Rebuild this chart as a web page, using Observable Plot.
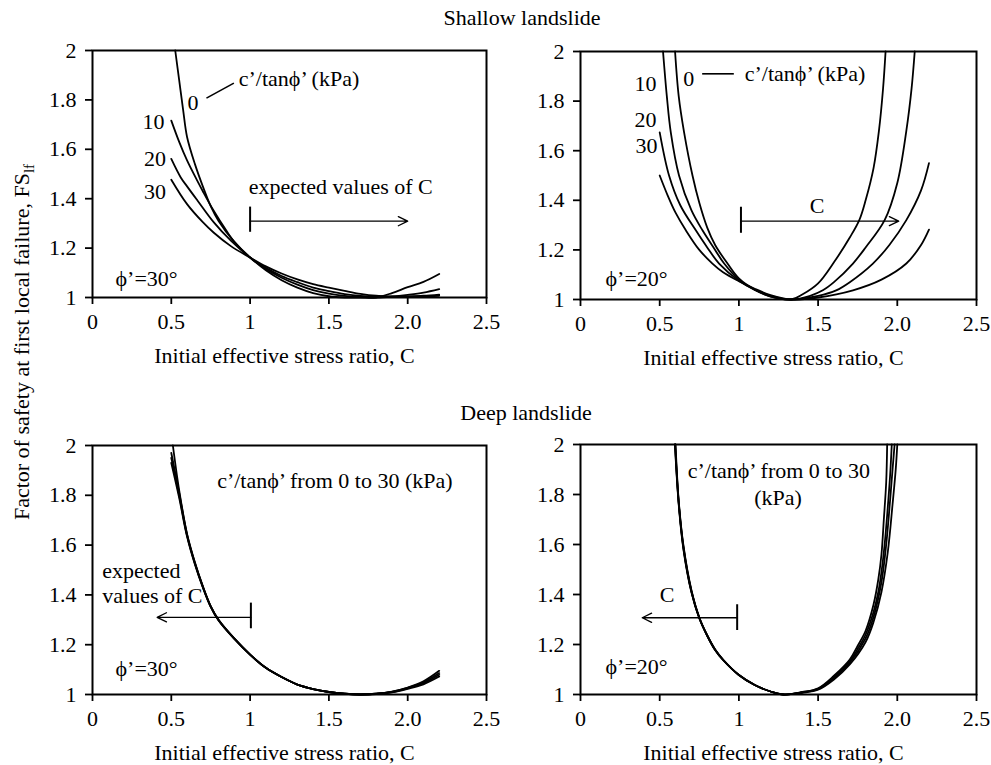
<!DOCTYPE html>
<html><head><meta charset="utf-8">
<script src="https://cdn.jsdelivr.net/npm/d3@7"></script>
<script src="https://cdn.jsdelivr.net/npm/@observablehq/plot@0.6"></script>
<style>
html,body{margin:0;padding:0;background:#fff;overflow:hidden;}
#fig{position:relative;width:991px;height:765px;overflow:hidden;background:#fff;}
#fig > svg{position:absolute;}
</style></head><body><div id="fig"></div>
<script>
// ---- tick values & labels
const xTickValues = [0, 0.5, 1, 1.5, 2, 2.5];
const xTickLabels = ["0", "0.5", "1", "1.5", "2.0", "2.5"];
const yTickValues = [1, 1.2, 1.4, 1.6, 1.8, 2];
const yTickLabels = ["1", "1.2", "1.4", "1.6", "1.8", "2"];
const seriesNames = ["0", "10", "20", "30"]; // c'/tanphi' (kPa)
const xTitle = "Initial effective stress ratio, C";
const yTitle = "Factor of safety at first local failure, FS";
const yTitleSub = "lf";
const panelTitles = ["Shallow landslide", "Deep landslide"];

// ---- Shallow landslide, phi' = 30
const shallow30_c0 = [[0.525,2.0],[0.55,1.88],[0.575,1.76],[0.6,1.65],[0.65,1.54],[0.7,1.45],[0.75,1.37],[0.8,1.31],[0.9,1.225],[1.0,1.162],[1.1,1.11],[1.2,1.07],[1.3,1.04],[1.4,1.018],[1.5,1.005],[1.6,1.0],[1.7,1.0],[1.8,1.0],[1.9,1.018],[2.0,1.042],[2.1,1.063],[2.2,1.095]];
const shallow30_c10 = [[0.5,1.716],[0.55,1.63],[0.6,1.555],[0.667,1.47],[0.7,1.43],[0.77,1.35],[0.85,1.27],[0.9,1.225],[1.0,1.162],[1.1,1.115],[1.2,1.08],[1.3,1.052],[1.4,1.03],[1.5,1.016],[1.6,1.007],[1.7,1.002],[1.8,1.0],[1.9,1.004],[2.0,1.011],[2.1,1.02],[2.2,1.034]];
const shallow30_c20 = [[0.5,1.561],[0.56,1.486],[0.6,1.45],[0.667,1.392],[0.77,1.304],[0.878,1.23],[1.0,1.162],[1.1,1.12],[1.2,1.087],[1.3,1.062],[1.4,1.04],[1.5,1.026],[1.6,1.014],[1.7,1.006],[1.8,1.002],[1.9,1.002],[2.0,1.004],[2.1,1.007],[2.2,1.012]];
const shallow30_c30 = [[0.5,1.477],[0.6,1.378],[0.7,1.305],[0.77,1.262],[0.878,1.208],[1.0,1.162],[1.1,1.126],[1.2,1.097],[1.3,1.073],[1.4,1.054],[1.5,1.04],[1.6,1.027],[1.7,1.015],[1.8,1.007],[1.9,1.004],[2.0,1.003],[2.1,1.004],[2.2,1.007]];

// ---- Shallow landslide, phi' = 20
const shallow20_c0 = [[0.597,2.0],[0.62,1.82],[0.654,1.674],[0.707,1.5],[0.75,1.39],[0.8,1.29],[0.85,1.22],[0.928,1.145],[1.0,1.085],[1.1,1.04],[1.2,1.013],[1.33,1.0],[1.4,1.02],[1.5,1.065],[1.6,1.15],[1.7,1.25],[1.76,1.32],[1.8,1.4],[1.85,1.53],[1.884,1.68],[1.91,1.85],[1.926,2.0]];
const shallow20_c10 = [[0.521,2.0],[0.545,1.82],[0.57,1.674],[0.622,1.5],[0.7,1.36],[0.77,1.279],[0.85,1.2],[0.907,1.145],[1.0,1.08],[1.1,1.038],[1.2,1.012],[1.33,1.0],[1.45,1.015],[1.53,1.037],[1.6,1.07],[1.72,1.145],[1.8,1.21],[1.92,1.32],[2.0,1.47],[2.057,1.68],[2.09,1.85],[2.11,2.0]];
const shallow20_c20 = [[0.5,1.674],[0.559,1.5],[0.63,1.38],[0.728,1.279],[0.8,1.21],[0.875,1.145],[1.0,1.076],[1.1,1.04],[1.2,1.015],[1.33,1.0],[1.5,1.015],[1.614,1.037],[1.7,1.07],[1.846,1.145],[1.95,1.22],[2.057,1.32],[2.15,1.44],[2.2,1.55]];
const shallow20_c30 = [[0.5,1.5],[0.55,1.42],[0.6,1.35],[0.665,1.279],[0.75,1.2],[0.833,1.145],[0.9,1.11],[1.0,1.074],[1.1,1.043],[1.2,1.018],[1.33,1.0],[1.5,1.008],[1.72,1.037],[1.9,1.08],[2.057,1.145],[2.15,1.22],[2.2,1.282]];

// ---- Deep landslide, phi' = 30
const deep30_c0 = [[0.51,2.0],[0.55,1.82],[0.6,1.645],[0.65,1.53],[0.7,1.435],[0.75,1.355],[0.8,1.3],[0.9,1.225],[1.0,1.16],[1.1,1.107],[1.2,1.07],[1.3,1.04],[1.4,1.022],[1.5,1.01],[1.6,1.003],[1.7,1.0],[1.8,1.003],[1.9,1.012],[2.0,1.028],[2.1,1.053],[2.2,1.095]];
const deep30_c10 = [[0.5,1.97],[0.55,1.81],[0.6,1.642],[0.65,1.528],[0.7,1.434],[0.75,1.354],[0.8,1.299],[0.9,1.224],[1.0,1.16],[1.1,1.107],[1.2,1.07],[1.3,1.04],[1.4,1.022],[1.5,1.01],[1.6,1.003],[1.7,1.0],[1.8,1.003],[1.9,1.011],[2.0,1.027],[2.1,1.049],[2.2,1.086]];
const deep30_c20 = [[0.5,1.95],[0.55,1.8],[0.6,1.638],[0.65,1.525],[0.7,1.432],[0.75,1.353],[0.8,1.298],[0.9,1.224],[1.0,1.16],[1.1,1.107],[1.2,1.07],[1.3,1.04],[1.4,1.022],[1.5,1.01],[1.6,1.003],[1.7,1.0],[1.8,1.003],[1.9,1.01],[2.0,1.025],[2.1,1.045],[2.2,1.079]];
const deep30_c30 = [[0.5,1.93],[0.55,1.79],[0.6,1.634],[0.65,1.522],[0.7,1.43],[0.75,1.352],[0.8,1.297],[0.9,1.223],[1.0,1.16],[1.1,1.107],[1.2,1.07],[1.3,1.04],[1.4,1.022],[1.5,1.01],[1.6,1.003],[1.7,1.0],[1.8,1.002],[1.9,1.009],[2.0,1.023],[2.1,1.041],[2.2,1.072]];

// ---- Deep landslide, phi' = 20
const deep20_c0 = [[0.596,2.0],[0.62,1.76],[0.65,1.58],[0.7,1.41],[0.75,1.305],[0.8,1.235],[0.85,1.178],[0.9,1.138],[1.0,1.078],[1.1,1.038],[1.2,1.012],[1.28,1.0],[1.4,1.01],[1.5,1.025],[1.6,1.075],[1.7,1.14],[1.75,1.195],[1.8,1.255],[1.85,1.36],[1.88,1.46],[1.9,1.56],[1.915,1.7],[1.93,1.85],[1.936,2.0]];
const deep20_c10 = [[0.597,2.0],[0.62,1.765],[0.65,1.585],[0.7,1.412],[0.75,1.306],[0.8,1.235],[0.85,1.178],[0.9,1.138],[1.0,1.078],[1.1,1.038],[1.2,1.012],[1.28,1.0],[1.4,1.009],[1.5,1.023],[1.6,1.07],[1.7,1.133],[1.75,1.182],[1.8,1.24],[1.85,1.33],[1.88,1.41],[1.9,1.49],[1.92,1.6],[1.94,1.75],[1.955,1.88],[1.965,2.0]];
const deep20_c20 = [[0.598,2.0],[0.62,1.77],[0.65,1.59],[0.7,1.415],[0.75,1.307],[0.8,1.236],[0.85,1.179],[0.9,1.139],[1.0,1.078],[1.1,1.038],[1.2,1.012],[1.28,1.0],[1.4,1.008],[1.5,1.021],[1.6,1.065],[1.7,1.127],[1.8,1.225],[1.85,1.31],[1.9,1.45],[1.93,1.6],[1.955,1.78],[1.97,1.9],[1.983,2.0]];
const deep20_c30 = [[0.6,2.0],[0.62,1.775],[0.65,1.595],[0.7,1.418],[0.75,1.308],[0.8,1.237],[0.85,1.18],[0.9,1.14],[1.0,1.078],[1.1,1.038],[1.2,1.012],[1.28,1.0],[1.4,1.007],[1.5,1.019],[1.6,1.06],[1.7,1.12],[1.8,1.21],[1.85,1.29],[1.9,1.41],[1.94,1.57],[1.97,1.76],[1.99,1.9],[2.0,2.0]];

// ---- annotations (data coordinates); a = text anchor
const ann_s30_text = [
  {x:0.928, y:1.885, t:"c’/tanϕ’ (kPa)", a:"start"},
  {x:0.638, y:1.789, t:"0", a:"middle"},
  {x:0.387, y:1.71, t:"10", a:"middle"},
  {x:0.397, y:1.562, t:"20", a:"middle"},
  {x:0.397, y:1.426, t:"30", a:"middle"},
  {x:0.992, y:1.447, t:"expected values of C", a:"start"},
  {x:0.146, y:1.076, t:"ϕ’=30°", a:"start"}
];
const ann_s30_leader = [{x1:0.723, y1:1.807, x2:0.897, y2:1.868}];
const ann_s30_arrow = [{x1:1.0, x2:2.0, y:1.309, yb1:1.366, yb2:1.264}];

const ann_s20_text = [
  {x:1.037, y:1.91, t:"c’/tanϕ’ (kPa)", a:"start"},
  {x:0.684, y:1.89, t:"0", a:"middle"},
  {x:0.41, y:1.87, t:"10", a:"middle"},
  {x:0.41, y:1.722, t:"20", a:"middle"},
  {x:0.417, y:1.621, t:"30", a:"middle"},
  {x:1.494, y:1.376, t:"C", a:"middle"},
  {x:0.158, y:1.083, t:"ϕ’=20°", a:"start"}
];
const ann_s20_leader = [{x1:0.768, y1:1.91, x2:0.968, y2:1.91}];
const ann_s20_arrow = [{x1:1.013, x2:2.009, y:1.316, yb1:1.372, yb2:1.267}];

const ann_d30_text = [
  {x:0.791, y:1.859, t:"c’/tanϕ’ from 0 to 30 (kPa)", a:"start"},
  {x:0.062, y:1.498, t:"expected", a:"start"},
  {x:0.062, y:1.395, t:"values of C", a:"start"},
  {x:0.146, y:1.103, t:"ϕ’=30°", a:"start"}
];
const ann_d30_arrow = [{x1:1.005, x2:0.41, y:1.31, yb1:1.367, yb2:1.264}];

const ann_d20_text = [
  {x:1.252, y:1.896, t:"c’/tanϕ’ from 0 to 30", a:"middle"},
  {x:1.247, y:1.787, t:"(kPa)", a:"middle"},
  {x:0.547, y:1.4, t:"C", a:"middle"},
  {x:0.158, y:1.109, t:"ϕ’=20°", a:"start"}
];
const ann_d20_arrow = [{x1:0.989, x2:0.39, y:1.307, yb1:1.359, yb2:1.256}];

// ---- build
const FONT = "'Liberation Serif', 'Times New Roman', serif";
const fig = document.getElementById("fig");

// overlay for titles
const overlay = d3.create("svg").attr("width", 991).attr("height", 765)
  .style("left", "0px").style("top", "0px")
  .attr("font-family", FONT).attr("font-size", 22).attr("fill", "black");
overlay.append("text").attr("x", 522).attr("y", 25).attr("text-anchor", "middle").text(panelTitles[0]);
overlay.append("text").attr("x", 526).attr("y", 420).attr("text-anchor", "middle").text(panelTitles[1]);
const yl = overlay.append("text").attr("transform", "translate(29,342) rotate(-90)").attr("text-anchor", "middle");
yl.append("tspan").text(yTitle);
yl.append("tspan").attr("font-size", 15).attr("dy", 5).text(yTitleSub);
fig.appendChild(overlay.node());

function fmtX(d) { return xTickLabels[xTickValues.indexOf(d)]; }
function fmtY(d) { const i = yTickValues.findIndex(v => Math.abs(v - d) < 1e-9); return yTickLabels[i]; }

function panel(frame, curves, texts, leaders, arrows) {
  const [fx0, fy0, fx1, fy1] = frame;
  const mL = 70, mR = 12, mT = 12, mB = 70;
  const rows = curves.flatMap((pts, k) => pts.map(([x, y]) => ({x, y, s: seriesNames[k]})));
  const p = Plot.plot({
    width: fx1 - fx0 + mL + mR,
    height: fy1 - fy0 + mT + mB,
    marginLeft: mL, marginRight: mR, marginTop: mT, marginBottom: mB,
    x: {domain: [0, 2.5]},
    y: {domain: [1, 2]},
    style: {fontFamily: FONT, fontSize: "22px", background: "transparent", color: "black", overflow: "visible"},
    marks: [
      Plot.axisX({ticks: xTickValues, tickFormat: fmtX, tickSize: 7, tickPadding: 9, strokeWidth: 1.8, label: null}),
      Plot.axisY({ticks: yTickValues, tickFormat: fmtY, tickSize: 7, tickPadding: 9, strokeWidth: 1.8, label: null}),
      Plot.line(rows, {x: "x", y: "y", z: "s", stroke: "black", strokeWidth: 1.8, curve: "catmull-rom"}),
      Plot.link(leaders, {x1: "x1", y1: "y1", x2: "x2", y2: "y2", stroke: "black", strokeWidth: 1.6}),
      Plot.arrow(arrows, {x1: "x1", y1: "y", x2: "x2", y2: "y", stroke: "black", strokeWidth: 1.3, headLength: 12, headAngle: 52, bend: 0}),
      Plot.ruleX(arrows, {x: "x1", y1: "yb1", y2: "yb2", stroke: "black", strokeWidth: 2}),
      Plot.text(texts.filter(d => d.a === "start"), {x: "x", y: "y", text: "t", textAnchor: "start", fill: "black", fontSize: 22}),
      Plot.text(texts.filter(d => d.a === "middle"), {x: "x", y: "y", text: "t", textAnchor: "middle", fill: "black", fontSize: 22}),
      Plot.frame({stroke: "black", strokeWidth: 2}),
      Plot.text([xTitle], {frameAnchor: "bottom", lineAnchor: "bottom", dy: 65, dx: -5, fill: "black", fontSize: 22})
    ]
  });
  p.style.position = "absolute";
  p.style.left = (fx0 - mL) + "px";
  p.style.top = (fy0 - mT) + "px";
  fig.appendChild(p);
}

panel([92, 50, 486, 297], [shallow30_c0, shallow30_c10, shallow30_c20, shallow30_c30], ann_s30_text, ann_s30_leader, ann_s30_arrow);
panel([580, 51, 976, 299], [shallow20_c0, shallow20_c10, shallow20_c20, shallow20_c30], ann_s20_text, ann_s20_leader, ann_s20_arrow);
panel([92, 445, 486, 694], [deep30_c0, deep30_c10, deep30_c20, deep30_c30], ann_d30_text, [], ann_d30_arrow);
panel([580, 444, 976, 694], [deep20_c0, deep20_c10, deep20_c20, deep20_c30], ann_d20_text, [], ann_d20_arrow);
</script></body></html>
